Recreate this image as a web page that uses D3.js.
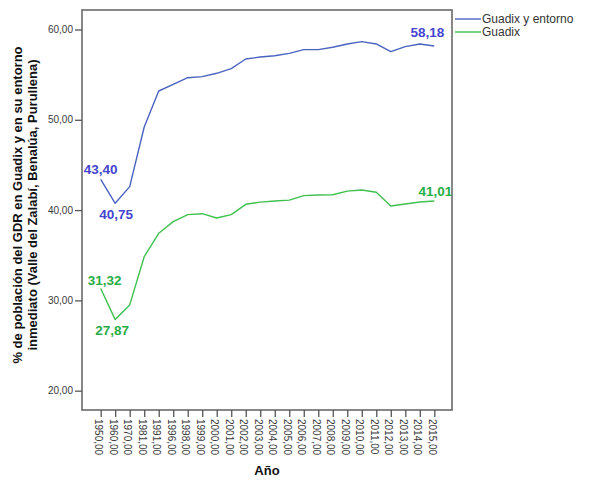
<!DOCTYPE html>
<html><head><meta charset="utf-8">
<script src="https://cdn.jsdelivr.net/npm/d3@7"></script>
<style>
body{margin:0;background:#fff;}
svg{display:block;font-family:"Liberation Sans",Arial,sans-serif;}
</style></head>
<body>
<svg id="c" width="595" height="481"></svg>
<script>
const years = ["1950,00","1960,00","1970,00","1981,00","1991,00","1996,00","1998,00","1999,00","2000,00","2001,00","2002,00","2003,00","2004,00","2005,00","2006,00","2007,00","2008,00","2009,00","2010,00","2011,00","2012,00","2013,00","2014,00","2015,00"];
const entorno = [43.40,40.75,42.6,49.2,53.19,53.93,54.66,54.78,55.15,55.66,56.73,56.95,57.1,57.36,57.77,57.77,58.03,58.4,58.66,58.4,57.55,58.1,58.4,58.18];
const guadix  = [31.32,27.87,29.5,34.84,37.43,38.72,39.5,39.6,39.12,39.5,40.64,40.88,41.0,41.1,41.6,41.67,41.7,42.1,42.23,41.97,40.45,40.68,40.9,41.01];
const seriesNames = ["Guadix y entorno","Guadix"];
const yTicks = [20,30,40,50,60];
const yTitle = ["% de población del GDR en Guadix y en su entorno","inmediato (Valle del Zalabí, Benalúa, Purullena)"];
const xTitle = "Año";
// labelled points: [series index, point index, placement]
const labelled = [[0,0,"a"],[0,1,"b"],[0,23,"a"],[1,0,"a"],[1,1,"b"],[1,23,"a"]];

const lineColors = ["#4a63c0","#3fc150"];
const labelColors = ["#4545d0","#27ad45"];
const fmt = v => d3.format(".2f")(v).replace(".", ",");

const svg = d3.select("#c");
const L = 82, R = 452, T = 10, B = 410;

const x = d3.scalePoint().domain(years).range([100.7, 434.3]);
const y = d3.scaleLinear().domain([17.86, 62.16]).range([B, T]);

// frame
svg.append("rect").attr("x", L).attr("y", T).attr("width", R - L).attr("height", B - T)
  .attr("fill", "none").attr("stroke", "#6a6a6a").attr("stroke-width", 1.6);

// y axis
const ya = svg.append("g").attr("transform", `translate(${L},0)`)
  .call(d3.axisLeft(y).tickValues(yTicks).tickFormat(fmt).tickSize(7).tickPadding(2));
ya.select(".domain").remove();
ya.selectAll("line").attr("stroke", "#555").attr("stroke-width", 1.3);
ya.selectAll("text").attr("font-size", 10).attr("fill", "#3a3a3a").attr("font-family", "Liberation Sans, Arial, sans-serif");

// x axis
const xa = svg.append("g").attr("transform", `translate(0,${B})`)
  .call(d3.axisBottom(x).tickSize(7).tickPadding(0));
xa.select(".domain").remove();
xa.selectAll("line").attr("stroke", "#555").attr("stroke-width", 1.3);
xa.selectAll("text").attr("font-size", 10).attr("fill", "#3a3a3a")
  .attr("font-family", "Liberation Sans, Arial, sans-serif")
  .attr("text-anchor", "start").attr("dy", null)
  .attr("transform", "translate(-3.5,9) rotate(90)")
  .attr("x", 0).attr("y", 0).attr("dominant-baseline", "middle");

// lines
const data = [entorno, guadix];
const line = d3.line().x((d, i) => x(years[i])).y(d => y(d));
data.forEach((s, k) => {
  svg.append("path").datum(s).attr("d", line).attr("fill", "none")
    .attr("stroke", lineColors[k]).attr("stroke-width", 1.4).attr("stroke-linejoin", "round");
});

// point labels
labelled.forEach(([k, i, p]) => {
  const v = data[k][i];
  const px = x(years[i]), py = y(v);
  let dx = 0, dy = p === "a" ? -5 : 16;
  if (k === 1 && i === 0) { dx = 4; dy = -3; }
  if (k === 1 && i === 1) { dx = -3; dy = 15; }
  if (i === 23 && k === 0) { dx = -7; dy = -8.5; }
  if (i === 23 && k === 1) { dx = 1; dy = -4.5; }
  if (k === 0 && i === 1) { dx = 1; }
  svg.append("text").attr("x", px + dx).attr("y", py + dy)
    .attr("text-anchor", "middle").attr("font-size", 13.5).attr("font-weight", "bold")
    .attr("fill", labelColors[k]).text(fmt(v));
});

// legend
seriesNames.forEach((n, k) => {
  const ly = 19 + k * 13;
  svg.append("line").attr("x1", 455).attr("x2", 481).attr("y1", ly).attr("y2", ly)
    .attr("stroke", lineColors[k]).attr("stroke-width", 1.4);
  svg.append("text").attr("x", 482).attr("y", ly).attr("dominant-baseline", "central")
    .attr("font-size", 12).attr("fill", "#333").text(n);
});

// y title
yTitle.forEach((t, j) => {
  svg.append("text").attr("transform", `translate(${22 + j * 15},205) rotate(-90)`)
    .attr("text-anchor", "middle").attr("font-size", 13).attr("font-weight", "bold")
    .attr("fill", "#111").text(t);
});
// x title
svg.append("text").attr("x", 267).attr("y", 475).attr("text-anchor", "middle")
  .attr("font-size", 13).attr("font-weight", "bold").attr("fill", "#111").text(xTitle);
</script>
</body></html>
